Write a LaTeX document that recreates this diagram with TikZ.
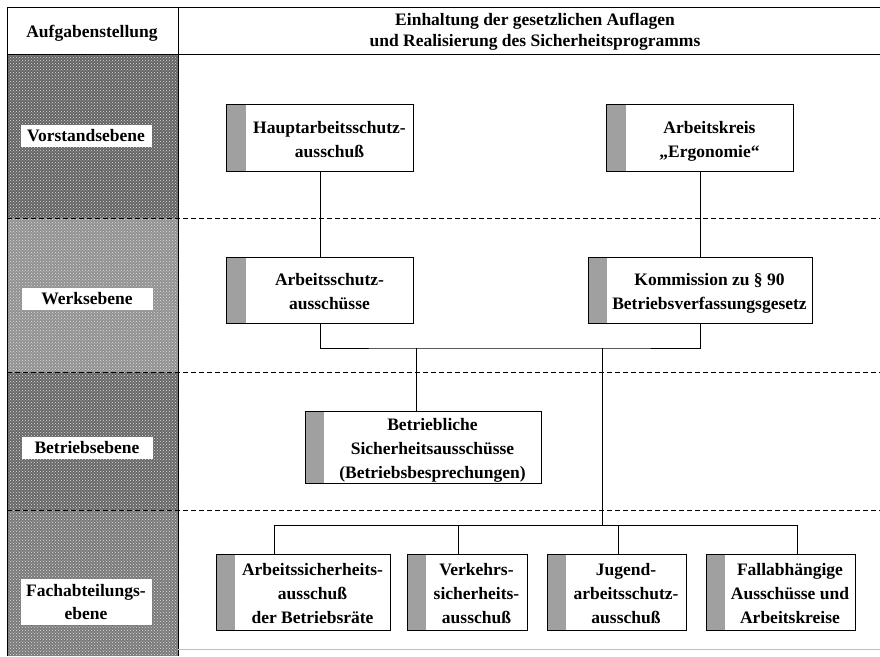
\documentclass[tikz,border=0pt]{standalone}
\usepackage{fontspec}
\setmainfont{Liberation Serif}
\usetikzlibrary{patterns}
\definecolor{vorstandgrau}{RGB}{100,100,100}
\definecolor{werksgrau}{RGB}{145,145,145}
\definecolor{betriebsgrau}{RGB}{104,104,104}
\definecolor{fachgrau}{RGB}{122,122,122}
\definecolor{streifengrau}{RGB}{160,160,160}
\newcommand{\zeilen}[1]{\hspace*{19pt}\raisebox{-3pt}[\height][\depth]{\begin{tabular}{@{}c@{}}#1\end{tabular}}}

\begin{document}
\begin{tikzpicture}[x=1pt,y=-1pt,
    every node/.style={font=\fontsize{17.5}{24}\selectfont\bfseries},
    gremium/.style={draw, line width=0.9pt, fill=white, inner sep=0pt,
      path picture={\fill[streifengrau] (path picture bounding box.north west)
        rectangle ([xshift=19pt]path picture bounding box.south west);}},
    ebene/.style={fill=white, minimum width=131pt, inner xsep=3pt, inner ysep=5pt, align=center},
    trenn/.style={dashed, dash pattern=on 5pt off 3pt, line width=0.8pt},
    rahmen/.style={line width=1pt}]
    \useasboundingbox (0,0) rectangle (880,656);
    % linke Spalte
    \fill[vorstandgrau] (7,54) rectangle (178,218);
    \fill[werksgrau] (7,218) rectangle (178,372);
    \fill[betriebsgrau] (7,372) rectangle (178,510);
    \fill[fachgrau] (7,510) rectangle (178,656);
    \fill[pattern=crosshatch dots, pattern color=white!75!gray] (7,54) rectangle (178,656);
    \draw[rahmen] (880,7) -- (7,7) -- (7,656);
    \draw[rahmen] (7,54) -- (880,54);
    \draw[rahmen] (178,7) -- (178,656);
    \draw[gray!50, line width=0.6pt] (178,649) -- (880,649);
    \draw[trenn] (7,218) -- (880,218);
    \draw[trenn] (7,372) -- (880,372);
    \draw[trenn] (7,510) -- (880,510);
    % Kopfzeile
    \node (aufgabe) at (92,33) {Aufgabenstellung};
    \node (titel) at (535,32) [align=center, font=\fontsize{17.5}{21.5}\selectfont\bfseries]
      {Einhaltung der gesetzlichen Auflagen\\und Realisierung des Sicherheitsprogramms};
    \node[ebene] (vorstand) at (86,136) {Vorstandsebene};
    \node[ebene] (werk) at (87,299) {Werksebene};
    \node[ebene] (betrieb) at (87,448) {Betriebsebene};
    \node[ebene, font=\fontsize{17.5}{23}\selectfont\bfseries] (fach) at (86,602) {Fachabteilungs-\\ebene};
    % Gremien
    \node[gremium, minimum width=187pt, minimum height=67pt] (haupt) at (320,138)
      {\zeilen{Hauptarbeitsschutz-\\ausschuß}};
    \node[gremium, minimum width=187pt, minimum height=67pt] (ergo) at (700,138)
      {\zeilen{Arbeitskreis\\„Ergonomie“}};
    \node[gremium, minimum width=187pt, minimum height=66pt] (arbsch) at (320,290)
      {\zeilen{Arbeitsschutz-\\ausschüsse}};
    \node[gremium, minimum width=224pt, minimum height=66pt] (komm) at (700,290)
      {\zeilen{Kommission zu § 90\\Betriebsverfassungsgesetz}};
    \node[gremium, minimum width=236pt, minimum height=71pt] (betr) at (423,447)
      {\zeilen{Betriebliche\\Sicherheitsausschüsse\\(Betriebsbesprechungen)}};
    \node[gremium, minimum width=174pt, minimum height=76pt] (fa1) at (303,592)
      {\zeilen{Arbeitssicherheits-\\ausschuß\\der Betriebsräte}};
    \node[gremium, minimum width=120pt, minimum height=76pt] (fa2) at (467,592)
      {\zeilen{Verkehrs-\\sicherheits-\\ausschuß}};
    \node[gremium, minimum width=139pt, minimum height=76pt] (fa3) at (616.5,592)
      {\zeilen{Jugend-\\arbeitsschutz-\\ausschuß}};
    \node[gremium, minimum width=149pt, minimum height=76pt] (fa4) at (780.5,592)
      {\zeilen{Fallabhängige\\Ausschüsse und\\Arbeitskreise}};
    % Verbindungen
    \coordinate (k1) at (416,348);
    \coordinate (k2) at (602,348);
    \coordinate (d1) at (274,525);
    \coordinate (d2) at (458,525);
    \coordinate (d3) at (618,525);
    \coordinate (d4) at (797,525);
    \draw[line width=0.9pt] (haupt) -- (arbsch);
    \draw[line width=0.9pt] (ergo) -- (komm);
    \draw[line width=0.9pt] (arbsch.south) |- (k1) -- (k2) -| (komm.south);
    \draw[line width=0.9pt] (k1) -- (betr.north -| k1);
    \draw[line width=0.9pt] (k2) -- (k2 |- d1);
    \draw[line width=0.9pt] (d1) -- (d4);
    \foreach \n/\d in {fa1/d1,fa2/d2,fa3/d3,fa4/d4}
      \draw[line width=0.9pt] (\d) -- (\d |- \n.north);
\end{tikzpicture}
\end{document}
